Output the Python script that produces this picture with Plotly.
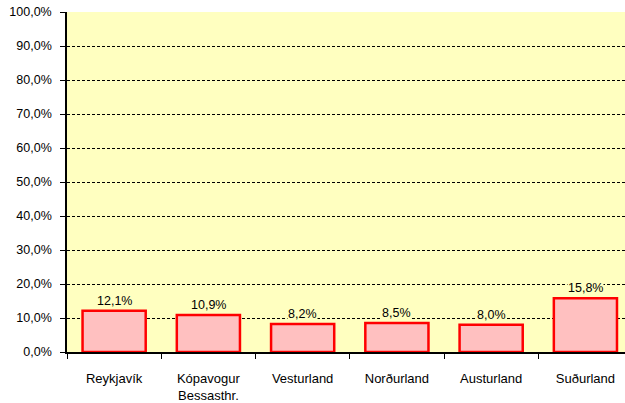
import plotly.graph_objects as go

categories = ["Reykjavík", "Kópavogur<br>Bessasthr.", "Vesturland", "Norðurland", "Austurland", "Suðurland"]
values = [12.1, 10.9, 8.2, 8.5, 8.0, 15.8]
y_ticks = [0, 10, 20, 30, 40, 50, 60, 70, 80, 90, 100]
y_tick_labels = [f"{v:.1f}%".replace(".", ",") for v in y_ticks]
value_labels = [f"{v:.1f}%".replace(".", ",") for v in values]

font = dict(family="Liberation Sans, Arial, sans-serif", size=12.5, color="#000000")
xfont = dict(family="Liberation Sans, Arial, sans-serif", size=13, color="#000000")

fig = go.Figure()
fig.add_trace(go.Bar(
    x=categories, y=values,
    marker=dict(color="#FFC0C0", line=dict(color="#FF0000", width=2.5)),
    width=0.67,
    hoverinfo="skip",
))

for c, v, t in zip(categories, values, value_labels):
    fig.add_annotation(x=c, y=v, text=t, showarrow=False, yanchor="bottom",
                       yshift=2, bgcolor="#FFFFC0", borderpad=0, font=font)

fig.update_layout(
    width=625, height=403,
    margin=dict(l=67, r=0, t=12, b=51, autoexpand=False),
    paper_bgcolor="#FFFFFF",
    plot_bgcolor="#FFFFC0",
    showlegend=False,
    font=font,
)
fig.update_xaxes(
    type="category",
    range=[-0.5, 5.42],
    tickson="boundaries",
    ticks="outside", ticklen=5, tickcolor="#000000", tickwidth=1,
    showline=True, linecolor="#000000", linewidth=1.5,
    showgrid=False,
    automargin=False,
    ticklabelstandoff=14,
    tickfont=xfont,
)
fig.update_yaxes(
    range=[0, 100],
    tickvals=y_ticks, ticktext=y_tick_labels,
    ticks="outside", ticklen=5, tickcolor="#000000", tickwidth=1,
    showline=True, linecolor="#000000", linewidth=1.5,
    showgrid=True, gridcolor="#000000", griddash="3px,2px", gridwidth=1,
    zeroline=False,
    automargin=False,
    ticklabelstandoff=6,
    tickfont=font,
)

fig.write_html("out.html", config={"displayModeBar": False},
               post_script="document.body.style.margin='0';document.body.style.overflow='hidden';")
